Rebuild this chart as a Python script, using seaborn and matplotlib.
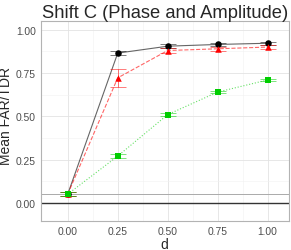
import matplotlib
matplotlib.use("Agg")
import matplotlib.pyplot as plt
import seaborn as sns
import pandas as pd
import numpy as np

# data
d_values = [0.00, 0.25, 0.50, 0.75, 1.00]
black_mean = [0.05, 0.865, 0.905, 0.915, 0.922]
black_err = [0.01, 0.012, 0.01, 0.008, 0.008]
red_mean = [0.05, 0.722, 0.88, 0.89, 0.90]
red_err = [0.012, 0.052, 0.015, 0.012, 0.012]
green_mean = [0.05, 0.27, 0.51, 0.64, 0.71]
green_err = [0.01, 0.012, 0.01, 0.008, 0.008]

series = [
    ("black", black_mean, black_err, "#000000", "-", "o"),
    ("red", red_mean, red_err, "#FF0000", "--", "^"),
    ("green", green_mean, green_err, "#00CD00", ":", "s"),
]

sns.set_theme(style="whitegrid")
plt.rcParams["font.family"] = ["Liberation Sans", "DejaVu Sans"]

fig = plt.figure(figsize=(2.91, 2.51), dpi=100)
ax = fig.add_axes([0.14, 0.1155, 0.852, 0.7965])

ax.axhline(0.0, color="#333333", lw=1.0, zorder=1)
ax.axhline(0.05, color="#aaaaaa", lw=0.7, zorder=1)

for name, mean, err, col, ls, mk in series:
    df = pd.DataFrame({"d": d_values, "v": mean})
    sns.lineplot(data=df, x="d", y="v", ax=ax, color=col, linestyle=ls,
                 lw=0.8, alpha=0.6, zorder=3)
    ax.errorbar(d_values, mean, yerr=err, fmt="none", ecolor=col, alpha=0.6,
                elinewidth=0.6, capsize=6, capthick=0.6, zorder=3)
    sns.scatterplot(data=df, x="d", y="v", ax=ax, color=col, marker=mk,
                    s=22, edgecolor=col, linewidth=0, zorder=4)

ax.set_xlim(-0.135, 1.105)
ax.set_ylim(-0.105, 1.05)
ax.set_xticks(d_values)
ax.set_xticklabels([f"{v:.2f}" for v in d_values])
ax.set_yticks([0.0, 0.25, 0.5, 0.75, 1.0])
ax.set_yticklabels(["0.00", "0.25", "0.50", "0.75", "1.00"])
ax.set_xticks([0.125, 0.375, 0.625, 0.875], minor=True)
ax.set_yticks([0.125, 0.375, 0.625, 0.875], minor=True)
ax.grid(which="major", color="#e3e3e3", lw=0.6)
ax.grid(which="minor", color="#f1f1f1", lw=0.4)
for sp in ax.spines.values():
    sp.set_color("#b3b3b3")
    sp.set_linewidth(0.8)
ax.tick_params(axis="both", which="major", labelsize=7.4, colors="#4d4d4d",
               length=2.5, width=0.5, pad=1.0, labelcolor="#4d4d4d")
ax.tick_params(which="minor", length=0)

ax.set_xlabel("d", fontsize=10)
ax.set_ylabel("Mean FAR/TDR", fontsize=10)
ax.xaxis.set_label_coords(0.5, -0.078)
ax.yaxis.set_label_coords(-0.11, 0.53)
ax.set_title("Shift C (Phase and Amplitude)", fontsize=13.2, pad=3)

fig.savefig("out.png", dpi=100)
